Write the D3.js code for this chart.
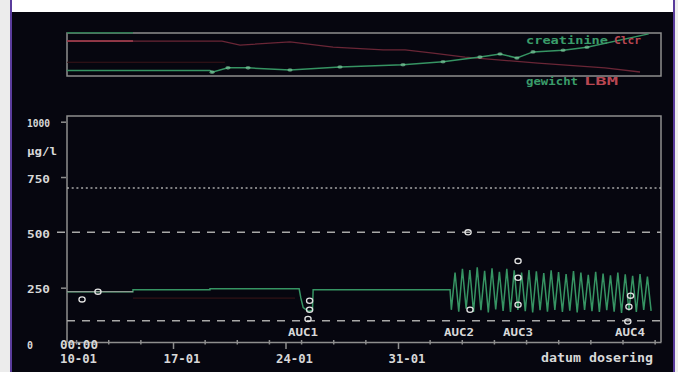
<!DOCTYPE html>
<html><head><meta charset="utf-8">
<script src="https://cdn.jsdelivr.net/npm/d3@7"></script>
<style>
html,body{margin:0;padding:0;background:#06060f;}
svg{display:block;}
text{font-family:"DejaVu Sans Mono",monospace;font-weight:bold;}
</style></head><body>
<svg id="c" width="678" height="372"></svg>
<script>
// ---------- data ----------
const baseDate = [1996, 0, 10];            // 10-01, day 0
const xDomainDays = [0.404, 37.365];
const yTickValues = [0, 250, 500, 750, 1000];
const yTickLabels = ["0", "250", "500", "750", "1000"];
const yUnit = "µg/l";
const refDotted = [700];
const refDashed = [500, 100];
const majorTickDays = [7, 14, 21];
const minorTickDays = [1, 3, 5, 9, 11, 13, 15, 17, 19, 23, 25, 27, 29, 31, 33, 35, 37];
const startLabel = ["00:00", "10-01"];
const xTitle = "datum dosering";

// concentration: steady part + dip (AUC1)
const concDays   = [0.404, 4.51, 4.51, 9.30, 9.30, 14.85, 14.95, 15.10, 15.45, 15.68, 15.72, 24.24];
const concValues = [232,   232,  241,  241,  245,  245,   205,   160,   142,   148,   241,   241];
// oscillating part: troughs before each peak
const troughDays   = [24.32, 24.78, 25.24, 25.70, 26.16, 26.62, 27.08, 27.54, 28.00, 28.46, 28.92, 29.38, 29.84, 30.30, 30.76, 31.23, 31.69, 32.15, 32.61, 33.07, 33.53, 33.99, 34.45, 34.91, 35.37, 35.83, 36.29, 36.75];
const troughValues = [150,   142,   155,   140,   148,   138,   152,   145,   140,   150,   144,   138,   148,   142,   150,   140,   146,   138,   150,   144,   140,   148,   142,   136,   146,   140,   150,   145];
const peakDays   = [24.55, 25.01, 25.47, 25.93, 26.39, 26.85, 27.31, 27.77, 28.23, 28.69, 29.15, 29.61, 30.07, 30.53, 30.99, 31.46, 31.92, 32.38, 32.84, 33.30, 33.76, 34.22, 34.68, 35.14, 35.60, 36.06, 36.52];
const peakValues = [318,   335,   330,   342,   326,   338,   322,   335,   328,   318,   330,   324,   316,   328,   320,   312,   325,   318,   308,   322,   314,   306,   318,   310,   304,   312,   300];
// faint model line
const predDays = [4.51, 14.59];
const predValues = [203, 203];
// measured samples
const sampleDays   = [1.34, 2.33, 15.50, 15.50, 15.40, 25.36, 25.48, 28.47, 28.47, 28.47, 35.47, 35.37, 35.30];
const sampleValues = [197,  232,  191,   150,   109,   500,   150,   370,   295,   173,   214,   164,   97];
const aucLabels = ["AUC1", "AUC2", "AUC3", "AUC4"];
const aucDays = [15.09, 24.80, 28.47, 35.43];

// top panel
const creaDays   = [0.404, 9.30, 9.43, 10.42, 11.67, 14.28, 17.39, 21.31, 23.80, 26.10, 27.35, 28.40, 29.40, 31.27, 32.76, 36.60];
const creaValues = [63,    63,   59,   69,    69,    64,    71,    76,    83,    94,    101,   92,    106,   110,   117,   148];
const clcrDays   = [0.404, 4.51, 10.05, 11.17, 14.28, 16.96, 20.07, 21.44, 23.18, 25.17, 29.71, 33.88, 36.06];
const clcrValues = [122,   122,  122,   108,   119,   101,   91,    91,    80,    66,    45,    28,    14];
const weightDays = [0.404, 4.51];
const weightValues = [92.5, 92.5];
const lbmDays = [0.404, 10.23];
const lbmValues = [43, 43];

// ---------- drawing ----------
const W = 678, H = 372;
const svg = d3.select("#c");
const day = d => new Date(Date.UTC(baseDate[0], baseDate[1], baseDate[2]) + d * 864e5);
const fmt = d3.utcFormat("%d-%m");

svg.append("rect").attr("width", W).attr("height", H).attr("fill", "#06060f");
svg.append("rect").attr("x", 0).attr("y", 0).attr("width", 10).attr("height", H).attr("fill", "#ececec");
svg.append("rect").attr("x", 675).attr("y", 0).attr("width", 3).attr("height", H).attr("fill", "#ececec");
svg.append("rect").attr("x", 10).attr("y", 0).attr("width", 665).attr("height", 12).attr("fill", "#ffffff");
svg.append("rect").attr("x", 10).attr("y", 0).attr("width", 2).attr("height", H).attr("fill", "#5a3c9c");
svg.append("rect").attr("x", 673).attr("y", 0).attr("width", 2).attr("height", H).attr("fill", "#5a3c9c");

const x = d3.scaleTime().domain(xDomainDays.map(day)).range([67, 661]);
const y = d3.scaleLinear().domain([0, 1000]).range([343, 121.7]);
const yCrea = d3.scaleLinear().domain([50, 150]).range([76, 33]);
const yClcr = d3.scaleLinear().domain([0, 150]).range([76, 33]);
const yWeight = d3.scaleLinear().domain([20, 92]).range([76, 33]);

const frame = "#8e8e8e";
const green = "#369463";
const lightGreen = "#86d6a6";
const txt = "#d8d8d8";

const zip = (a, b) => a.map((d, i) => [d, b[i]]);
const lineOf = ys => d3.line().x(d => x(day(d[0]))).y(d => ys(d[1]));

// ---------- top panel ----------
const topG = svg.append("g");
topG.append("rect").attr("x", 67).attr("y", 33).attr("width", 594).attr("height", 43)
  .attr("fill", "none").attr("stroke", frame).attr("stroke-width", 1.5);

topG.append("path").datum(zip(lbmDays, lbmValues)).attr("d", lineOf(yWeight))
  .attr("fill", "none").attr("stroke", "#3a1418").attr("stroke-width", 1.2);
topG.append("path").datum(zip(weightDays, weightValues)).attr("d", lineOf(yWeight))
  .attr("fill", "none").attr("stroke", "#2f7a52").attr("stroke-width", 1.5);

topG.append("path").datum(zip(clcrDays, clcrValues)).attr("d", lineOf(yClcr))
  .attr("fill", "none").attr("stroke", "#6a2636").attr("stroke-width", 1.3);
topG.append("path").datum(zip(clcrDays, clcrValues).slice(0, 2)).attr("d", lineOf(yClcr))
  .attr("fill", "none").attr("stroke", "#a84252").attr("stroke-width", 1.4);

topG.append("path").datum(zip(creaDays, creaValues)).attr("d", lineOf(yCrea))
  .attr("fill", "none").attr("stroke", green).attr("stroke-width", 1.5);
topG.selectAll("ellipse.cm").data(zip(creaDays, creaValues).slice(2, -1)).join("ellipse")
  .attr("cx", d => x(day(d[0]))).attr("cy", d => yCrea(d[1]))
  .attr("rx", 2.6).attr("ry", 1.8).attr("fill", lightGreen).attr("opacity", 0.6);

const tl = topG.append("g").attr("font-size", 11);
tl.append("text").attr("x", 526).attr("y", 44).attr("textLength", 82).attr("lengthAdjust", "spacingAndGlyphs")
  .attr("fill", "#3a9c6a").text("creatinine");
tl.append("text").attr("x", 614).attr("y", 44).attr("textLength", 27).attr("lengthAdjust", "spacingAndGlyphs")
  .attr("fill", "#b84652").text("Clcr");
tl.append("text").attr("x", 526).attr("y", 85).attr("textLength", 52).attr("lengthAdjust", "spacingAndGlyphs")
  .attr("fill", "#3a9c6a").text("gewicht");
tl.append("text").attr("x", 584).attr("y", 85).attr("textLength", 34).attr("lengthAdjust", "spacingAndGlyphs")
  .attr("fill", "#b84652").text("LBM");

// ---------- main panel ----------
const mainG = svg.append("g");
mainG.append("path").attr("d", "M67,342V116H661V342").attr("fill", "none")
  .attr("stroke", frame).attr("stroke-width", 1.5);

mainG.selectAll("line.dot").data(refDotted).join("line")
  .attr("x1", 67).attr("x2", 661).attr("y1", d => y(d)).attr("y2", d => y(d))
  .attr("stroke", "#a8a8a8").attr("stroke-width", 1.5).attr("stroke-dasharray", "2,2.7");
mainG.selectAll("line.dash").data(refDashed).join("line")
  .attr("x1", (d, i) => i === 0 ? 57 : 67).attr("x2", 661).attr("y1", d => y(d)).attr("y2", d => y(d))
  .attr("stroke", "#a8a8a8").attr("stroke-width", 1.5).attr("stroke-dasharray", "8,7");

const xAxis = d3.axisBottom(x).tickValues(majorTickDays.map(day)).tickSizeInner(7).tickSizeOuter(0).tickFormat(fmt);
const gx = mainG.append("g").attr("transform", "translate(0,342)").call(xAxis);
gx.select(".domain").attr("stroke", frame).attr("stroke-width", 1.5);
gx.selectAll(".tick line").attr("stroke", frame).attr("stroke-width", 1.5);
gx.selectAll(".tick text").attr("text-anchor", "start").attr("x", -10).attr("y", 21).attr("dy", null)
  .attr("fill", txt).attr("font-size", 13).attr("font-family", "DejaVu Sans Mono").attr("font-weight", "bold")
  .attr("textLength", 37).attr("lengthAdjust", "spacingAndGlyphs");
mainG.selectAll("line.minor").data(minorTickDays).join("line")
  .attr("x1", d => x(day(d))).attr("x2", d => x(day(d))).attr("y1", 340).attr("y2", 344.5)
  .attr("stroke", frame).attr("stroke-width", 1.5);

const sl = mainG.append("g").attr("font-size", 12).attr("fill", txt);
sl.append("text").attr("x", x(day(0)) - 0.5).attr("y", 349).attr("textLength", 38)
  .attr("lengthAdjust", "spacingAndGlyphs").text(startLabel[0]);
sl.append("text").attr("x", x(day(0)) - 0.5).attr("y", 363).attr("textLength", 37)
  .attr("lengthAdjust", "spacingAndGlyphs").attr("font-size", 13).text(startLabel[1]);
sl.append("text").attr("x", 541).attr("y", 362).attr("textLength", 112)
  .attr("lengthAdjust", "spacingAndGlyphs").attr("font-size", 12).text(xTitle);

const yAxis = d3.axisLeft(y).tickValues([250, 750, 1000]).tickSize(5).tickFormat("");
const gy = mainG.append("g").attr("transform", "translate(66,0)").call(yAxis);
gy.select(".domain").remove();
gy.selectAll(".tick line").attr("stroke", frame).attr("stroke-width", 1.5);
mainG.selectAll("text.yl").data(yTickValues).join("text")
  .attr("x", 27).attr("y", d => y(d) + 5.5).attr("fill", txt).attr("font-size", 11)
  .attr("textLength", (d, i) => yTickLabels[i].length > 1 ? 23 : 6).attr("lengthAdjust", "spacingAndGlyphs")
  .text((d, i) => yTickLabels[i]);
mainG.append("text").attr("x", 27).attr("y", 155).attr("fill", txt).attr("font-size", 11)
  .attr("textLength", 30).attr("lengthAdjust", "spacingAndGlyphs").text(yUnit);

mainG.append("path").datum(zip(predDays, predValues)).attr("d", lineOf(y))
  .attr("fill", "none").attr("stroke", "#301216").attr("stroke-width", 1.2);

const osc = [];
troughDays.forEach((d, i) => {
  osc.push([d, troughValues[i]]);
  if (i < peakDays.length) osc.push([peakDays[i], peakValues[i]]);
});
const conc = zip(concDays, concValues).concat(osc);
mainG.append("path").datum(conc).attr("d", lineOf(y))
  .attr("fill", "none").attr("stroke", green).attr("stroke-width", 1.5).attr("stroke-linejoin", "miter");
mainG.append("path").datum(zip(concDays, concValues).slice(0, 2)).attr("d", lineOf(y))
  .attr("fill", "none").attr("stroke", "#8c9a90").attr("stroke-width", 1.3);

mainG.selectAll("ellipse.s").data(zip(sampleDays, sampleValues)).join("ellipse")
  .attr("cx", d => x(day(d[0]))).attr("cy", d => y(d[1]))
  .attr("rx", 3.1).attr("ry", 2.6).attr("fill", "none").attr("stroke", "#e2e2e2").attr("stroke-width", 1.3);

mainG.selectAll("text.auc").data(aucDays).join("text")
  .attr("x", d => x(day(d))).attr("y", 336).attr("text-anchor", "middle")
  .attr("fill", txt).attr("font-size", 11).attr("textLength", 30).attr("lengthAdjust", "spacingAndGlyphs")
  .text((d, i) => aucLabels[i]);
</script>
</body></html>
